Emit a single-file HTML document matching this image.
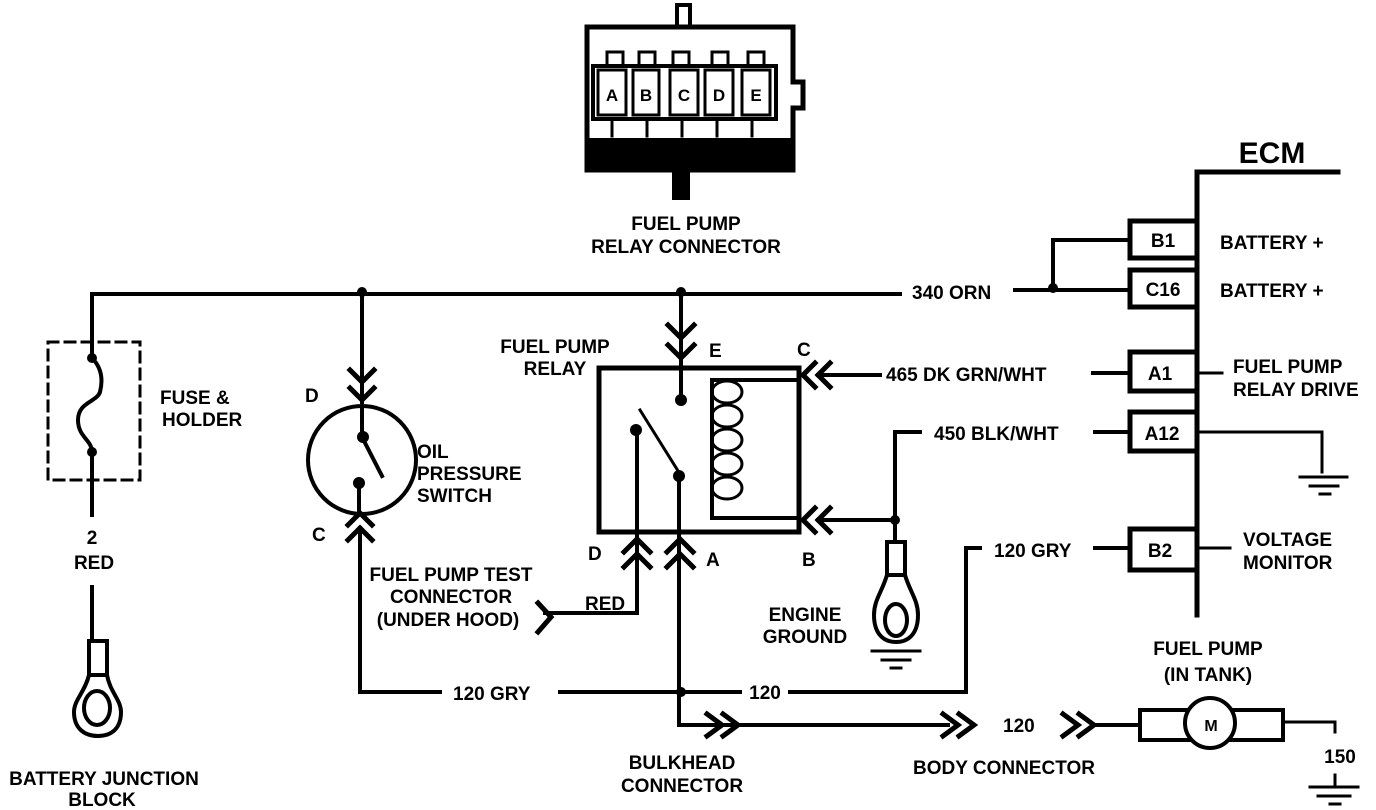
<!DOCTYPE html>
<html><head><style>
html,body{margin:0;padding:0;background:#fff;}
svg{display:block;}
text{font-family:"Liberation Sans",sans-serif;font-weight:bold;font-size:19px;fill:#000;}
</style></head><body>
<svg width="1376" height="810" viewBox="0 0 1376 810" xmlns="http://www.w3.org/2000/svg">
<g stroke="#000" stroke-width="4" fill="none" stroke-linecap="square">
<!-- Top relay connector -->
<rect x="677" y="5" width="13" height="22" stroke-width="4"/>
<path d="M587 27 H793 V82 H803 V108 H793 V170 H587 Z" stroke-width="5"/>
<rect x="589" y="138" width="202" height="32" fill="#000" stroke="none"/>
<rect x="672" y="170" width="18" height="30" fill="#000" stroke="none"/>
<rect x="593" y="66" width="183" height="53" stroke-width="4"/>
<rect x="598" y="70" width="28" height="45" stroke-width="3"/>
<rect x="633" y="70" width="26" height="45" stroke-width="3"/>
<rect x="670" y="70" width="28" height="45" stroke-width="3"/>
<rect x="705" y="70" width="28" height="45" stroke-width="3"/>
<rect x="742" y="70" width="28" height="45" stroke-width="3"/>
<rect x="607" y="52" width="16" height="14" stroke-width="3"/>
<rect x="639" y="52" width="16" height="14" stroke-width="3"/>
<rect x="673" y="52" width="16" height="14" stroke-width="3"/>
<rect x="712" y="52" width="16" height="14" stroke-width="3"/>
<rect x="748" y="52" width="16" height="14" stroke-width="3"/>
<path d="M612 119 V136 M647 119 V136 M682 119 V136 M717 119 V136 M752 119 V136" stroke-width="3"/>

<!-- main top wire -->
<path d="M92 294 H900 M1015 290 H1130 M1053 290 V240 H1130"/>
<!-- fuse -->
<path d="M92 294 V358"/>
<path d="M92 358 C102 368 103 380 100 392 C97 402 78 402 78 420 C78 437 92 440 92 452" stroke-width="4"/>
<path d="M92 452 V515 M92 587 V640"/>
<rect x="48" y="342" width="92" height="138" stroke-dasharray="10 7" stroke-width="3"/>
<!-- battery terminal -->
<rect x="89" y="641" width="18" height="34" stroke-width="4"/>
<path d="M89 675 C85 692 74 700 74 712 C74 728 84 736 98 736 C112 736 121 728 121 712 C121 700 110 692 107 675"/>
<ellipse cx="97" cy="708" rx="13" ry="17" stroke-width="4"/>

<!-- oil pressure switch -->
<path d="M362 294 V402"/>
<path d="M350 370 L362 382 L374 370 M350 388 L362 400 L374 388" stroke-width="5"/>
<circle cx="362" cy="460" r="54"/>
<path d="M362 407 V437 M362 437 L382 476 M359 483 V513"/>
<path d="M348 525 L360 513 L372 525 M348 540 L360 528 L372 540" stroke-width="5"/>
<path d="M360 528 V692 H440 M560 692 H740 M790 692 H966 V548 H980 M1095 548 H1130"/>
<!-- relay -->
<path d="M681 294 V400"/>
<path d="M668 325 L681 338 L694 325 M668 345 L681 358 L694 345" stroke-width="5"/>
<rect x="599" y="368" width="200" height="164" stroke-width="5"/>
<path d="M799 380 H712 V518 H799" stroke-width="4"/>
<g stroke-width="3">
<ellipse cx="727" cy="392" rx="15" ry="11"/>
<ellipse cx="727" cy="416" rx="15" ry="11"/>
<ellipse cx="727" cy="440" rx="15" ry="11"/>
<ellipse cx="727" cy="464" rx="15" ry="11"/>
<ellipse cx="727" cy="488" rx="15" ry="11"/>
</g>
<path d="M640 410 L680 474" stroke-width="3"/>
<path d="M637 430 V613 H545 M679 475 V725 H740"/>
<path d="M624 552 L637 539 L650 552 M624 567 L637 554 L650 567" stroke-width="5"/>
<path d="M667 552 L680 539 L693 552 M667 567 L680 554 L693 567" stroke-width="5"/>
<path d="M538 603 L551 617 L538 632" stroke-width="5"/>
<!-- C/B chevrons -->
<path d="M815 363 L803 375 L815 387 M830 363 L818 375 L830 387" stroke-width="5"/>
<path d="M818 375 H880 M1093 373 H1130"/>
<path d="M815 508 L803 520 L815 532 M830 508 L818 520 L830 532" stroke-width="5"/>
<path d="M818 520 H895 M895 432 V541 M895 432 H920 M1095 432 H1130"/>
<!-- engine ground -->
<rect x="887" y="542" width="18" height="33"/>
<path d="M887 575 C882 592 874 600 874 615 C874 632 882 642 896 642 C910 642 918 632 918 615 C918 600 910 592 905 575"/>
<ellipse cx="896" cy="620" rx="11" ry="16"/>
<path d="M872 651 H920 M882 660 H910 M891 668 H901" stroke-width="3"/>
<!-- bulkhead to pump -->
<path d="M740 725 H948"/>
<g stroke-width="5">
<path d="M707 714 L722 725 L707 736 M723 714 L738 725 L723 736"/>
<path d="M943 714 L958 725 L943 736 M959 714 L974 725 L959 736"/>
<path d="M1063 714 L1078 725 L1063 736 M1079 714 L1094 725 L1079 736"/>
</g>
<path d="M1094 725 H1138"/>
<rect x="1140" y="710" width="143" height="30"/>
<circle cx="1210" cy="723" r="25" fill="#fff"/>
<path d="M1283 722 H1335 V732 M1335 775 V785 M1310 787 H1358 M1318 796 H1350 M1330 804 H1340" stroke-width="3"/>
<!-- ECM -->
<path d="M1197 172 V615 M1197 172 H1338" stroke-width="5"/>
<rect x="1130" y="221" width="67" height="37" fill="#fff" stroke-width="5"/>
<rect x="1130" y="270" width="67" height="37" fill="#fff" stroke-width="5"/>
<rect x="1130" y="352" width="67" height="39" fill="#fff" stroke-width="5"/>
<rect x="1130" y="412" width="67" height="39" fill="#fff" stroke-width="5"/>
<rect x="1130" y="529" width="67" height="41" fill="#fff" stroke-width="5"/>
<path d="M1197 373 H1222 M1197 432 H1322 V472 M1300 477 H1347 M1310 486 H1338 M1320 494 H1330 M1197 548 H1230" stroke-width="3"/>
</g>
<g fill="#000">
<circle cx="362" cy="292" r="5"/><circle cx="681" cy="292" r="5"/><circle cx="1053" cy="288" r="5"/>
<circle cx="92" cy="358" r="5"/><circle cx="92" cy="452" r="5"/>
<circle cx="363" cy="437" r="6"/><circle cx="359" cy="483" r="6"/>
<circle cx="681" cy="400" r="6"/><circle cx="636" cy="430" r="6"/><circle cx="679" cy="476" r="6"/>
<circle cx="895" cy="520" r="5"/><circle cx="681" cy="692" r="5"/>
</g>
<!-- text -->
<g text-anchor="middle">
<text x="612" y="101" style="font-size:17px">A</text><text x="646" y="101" style="font-size:17px">B</text><text x="684" y="101" style="font-size:17px">C</text><text x="719" y="101" style="font-size:17px">D</text><text x="756" y="101" style="font-size:17px">E</text>
<text x="686" y="230">FUEL PUMP</text>
<text x="686" y="253">RELAY CONNECTOR</text>
<text x="1272" y="163" style="font-size:30px">ECM</text>
<text x="92" y="544">2</text>
<text x="94" y="569">RED</text>
<text x="104" y="785">BATTERY JUNCTION</text>
<text x="102" y="806">BLOCK</text>
<text x="451" y="581">FUEL PUMP TEST</text>
<text x="451" y="603">CONNECTOR</text>
<text x="448" y="626">(UNDER HOOD)</text>
<text x="805" y="621">ENGINE</text>
<text x="805" y="643">GROUND</text>
<text x="682" y="769">BULKHEAD</text>
<text x="682" y="792">CONNECTOR</text>
<text x="1004" y="774">BODY CONNECTOR</text>
<text x="1208" y="655">FUEL PUMP</text>
<text x="1208" y="681">(IN TANK)</text>
<text x="1211" y="731" style="font-size:16px">M</text>
<text x="1163" y="247">B1</text>
<text x="1163" y="296">C16</text>
<text x="1160" y="380">A1</text>
<text x="1162" y="440">A12</text>
<text x="1160" y="557">B2</text>
<text x="1340" y="763">150</text>
<text x="765" y="699">120</text>
</g>
<text x="555" y="353" text-anchor="middle">FUEL PUMP</text>
<text x="555" y="375" text-anchor="middle">RELAY</text>
<text x="160" y="404">FUSE &amp;</text>
<text x="162" y="426">HOLDER</text>
<text x="305" y="402">D</text>
<text x="312" y="541">C</text>
<text x="417" y="458">OIL</text>
<text x="417" y="480">PRESSURE</text>
<text x="417" y="502">SWITCH</text>
<text x="709" y="357">E</text>
<text x="797" y="356">C</text>
<text x="588" y="560">D</text>
<text x="706" y="566">A</text>
<text x="802" y="566">B</text>
<text x="585" y="610">RED</text>
<text x="453" y="700">120 GRY</text>
<text x="1003" y="732">120</text>
<text x="912" y="299">340 ORN</text>
<text x="886" y="381">465 DK GRN/WHT</text>
<text x="934" y="440">450 BLK/WHT</text>
<text x="994" y="557">120 GRY</text>
<text x="1220" y="249">BATTERY +</text>
<text x="1220" y="297">BATTERY +</text>
<text x="1233" y="373">FUEL PUMP</text>
<text x="1233" y="396">RELAY DRIVE</text>
<text x="1243" y="546">VOLTAGE</text>
<text x="1243" y="569">MONITOR</text>
</svg>
</body></html>
